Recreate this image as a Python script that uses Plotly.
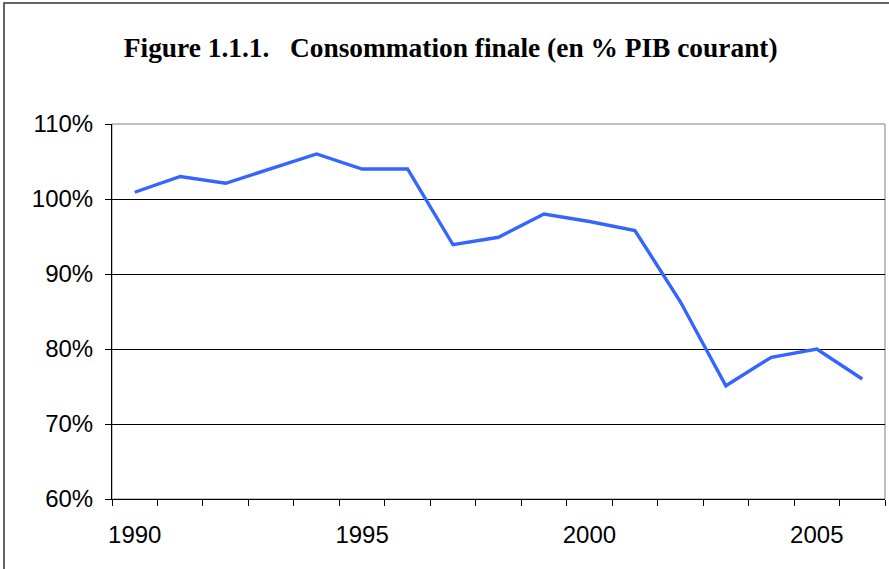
import plotly.graph_objects as go

years = list(range(1990, 2007))
consommation = [100.9, 103.0, 102.1, 104.0, 106.0, 104.0, 104.0, 93.9, 94.9, 98.0,
                97.0, 95.8, 86.3, 75.1, 78.9, 80.0, 76.0]
y_ticks = [60, 70, 80, 90, 100, 110]
y_labels = [f"{v}%" for v in y_ticks]
x_ticks = [1990, 1995, 2000, 2005]
title = "Figure 1.1.1.\u00a0\u00a0\u00a0Consommation finale (en % PIB courant)"

fig = go.Figure()
fig.add_trace(go.Scatter(x=years, y=consommation, mode="lines",
                         line=dict(color="#3366ff", width=3.4), hoverinfo="skip"))

L, R, T, B = 112, 4, 124, 70
W, H = 889, 569
pw, ph = W - L - R, H - T - B

fig.update_layout(
    width=W, height=H,
    margin=dict(l=L, r=R, t=T, b=B),
    paper_bgcolor="white", plot_bgcolor="white",
    showlegend=False,
    title=dict(text=f"<b>{title}</b>", x=0.507, xanchor="center", y=1 - 47 / H, yanchor="middle",
               font=dict(family="Liberation Serif, Times New Roman, serif", size=27.4, color="black")),
    xaxis=dict(range=[1989.5, 2006.5], tickvals=x_ticks, ticktext=[str(v) for v in x_ticks],
               ticks="", showgrid=False, zeroline=False,
               showline=True, linecolor="black", linewidth=1,
               tickfont=dict(family="Liberation Sans, Arial", size=24, color="black"),
               ticklabelstandoff=14,
               minor=dict(ticks="outside", tick0=1989.5, dtick=1, ticklen=6, tickcolor="black",
                          tickwidth=1, showgrid=False)),
    yaxis=dict(range=[60, 110], tickvals=y_ticks, ticktext=y_labels,
               ticks="outside", ticklen=6, tickcolor="black", tickwidth=1,
               showgrid=True, gridcolor="black", gridwidth=1, zeroline=False,
               showline=True, linecolor="black", linewidth=1,
               tickfont=dict(family="Liberation Sans, Arial", size=24, color="black"),
               ticklabelstandoff=7),
)

# plot-area border (gray)
fig.add_shape(type="rect", xref="paper", yref="paper", x0=0, x1=1, y0=0, y1=1,
              line=dict(color="#808080", width=1), layer="below")
# outer chart border
fig.add_shape(type="rect", xref="paper", yref="paper",
              x0=(4 - L) / pw, x1=(W + 10 - L) / pw,
              y0=-(H + 10 - (T + ph)) / ph, y1=1 + (T - 3) / ph,
              line=dict(color="#333333", width=1.5), layer="above")

fig.write_html("out.html", config={"displayModeBar": False},
               post_script="document.body.style.margin='0';document.body.style.overflow='hidden';")
